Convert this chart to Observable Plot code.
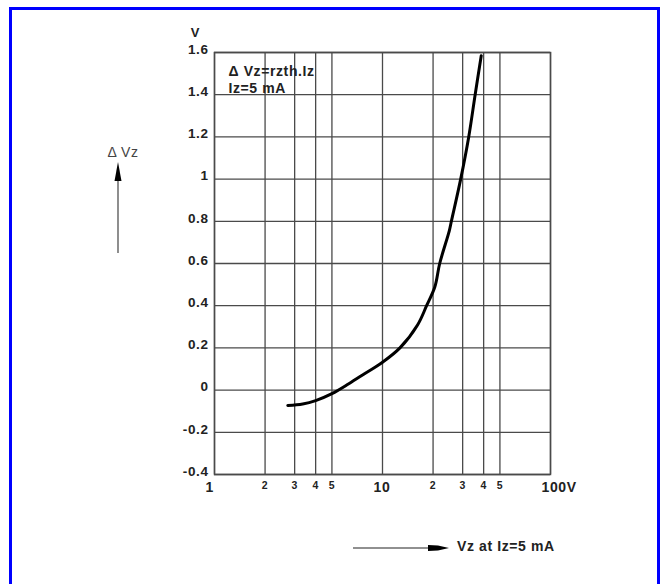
<!DOCTYPE html>
<html>
<head>
<meta charset="utf-8">
<script src="https://cdn.jsdelivr.net/npm/d3@7"></script>
<script src="https://cdn.jsdelivr.net/npm/@observablehq/plot@0.6"></script>
<style>
  html, body { margin: 0; padding: 0; background: #fff; width: 665px; height: 584px; overflow: hidden; }
  #border { position: absolute; left: 9px; top: 7px; width: 645px; height: 620px; border: 3px solid #0000ff; }
  #chart { position: absolute; left: 0; top: 0; }
  #chart svg text { letter-spacing: 0.6px; }
</style>
</head>
<body>
<div id="border"></div>
<div id="chart"></div>
<script>
// ---- data ----
const vz  = [2.73, 3.35, 4.0, 5.0, 6.3, 7.9, 10.0, 12.7, 16.2, 18.3, 20.5, 21.9, 25.0, 25.7, 29.2, 32.6, 35.6, 38.7];
const dvz = [-0.073, -0.066, -0.05, -0.017, 0.03, 0.08, 0.132, 0.2, 0.31, 0.4, 0.49, 0.6, 0.756, 0.8, 1.0, 1.2, 1.4, 1.585];

const xGrid = [1, 2, 3, 4, 5, 10, 20, 30, 40, 50, 100];
const xMajor = [1, 10, 100];
const xMajorLabels = ["1", "10", "100V"];
const xMinor = [2, 3, 4, 5, 20, 30, 40, 50];
const xMinorLabels = ["2", "3", "4", "5", "2", "3", "4", "5"];
const yTicks = [-0.4, -0.2, 0, 0.2, 0.4, 0.6, 0.8, 1, 1.2, 1.4, 1.6];
const yLabels = ["-0.4", "-0.2", "0", "0.2", "0.4", "0.6", "0.8", "1", "1.2", "1.4", "1.6"];

const yUnit = "V";
const note1 = "\u0394 Vz=rzth.Iz";
const note2 = "Iz=5 mA";
const yTitle = "\u0394 Vz";
const xTitle = "Vz at Iz=5 mA";

const curve = vz.map((v, i) => ({x: v, y: dvz[i]}));
const majorRows = xMajor.map((v, i) => ({x: v, label: xMajorLabels[i]}));
const minorRows = xMinor.map((v, i) => ({x: v, label: xMinorLabels[i]}));
const gridColor = "#4a4a4a";

const plot = Plot.plot({
  width: 665,
  height: 584,
  marginLeft: 214,
  marginRight: 115,
  marginTop: 52,
  marginBottom: 110,
  style: {fontFamily: "'Liberation Sans', Arial, sans-serif", fontWeight: "bold", fontSize: "14px", color: "#222", background: "transparent"},
  x: {type: "log", domain: [1, 100], axis: null},
  y: {domain: [-0.4, 1.6]},
  marks: [
    Plot.ruleX(xGrid, {stroke: gridColor, strokeWidth: 1.3}),
    Plot.ruleY(yTicks, {stroke: gridColor, strokeWidth: 1.3}),
    Plot.frame({stroke: gridColor, strokeWidth: 1.5}),
    Plot.axisY(yTicks, {
      tickSize: 0, tickPadding: 6, dy: -3, fontSize: 13.5,
      tickFormat: d => yLabels[yTicks.indexOf(d)], label: null
    }),
    Plot.text(majorRows, {x: "x", text: "label", frameAnchor: "bottom", dy: 17, dx: -9, textAnchor: "start", fontSize: 14}),
    Plot.text(minorRows, {x: "x", text: "label", frameAnchor: "bottom", dy: 14, textAnchor: "middle", fontSize: 10.5}),
    Plot.line(curve, {x: "x", y: "y", stroke: "#000", strokeWidth: 3, curve: "catmull-rom"}),
    Plot.text([yUnit], {frameAnchor: "top-left", dx: -19, dy: -25, fontSize: 13, textAnchor: "middle"}),
    Plot.text([note1], {frameAnchor: "top-left", dx: 14, dy: 14, fontSize: 14, textAnchor: "start"}),
    Plot.text([note2], {frameAnchor: "top-left", dx: 14, dy: 31, fontSize: 14, textAnchor: "start"})
  ]
});

document.getElementById("chart").appendChild(plot);

// decorative annotations outside the frame
const svg = d3.select(plot);
const g = svg.append("g").attr("fill", "#222").style("font-weight", "bold").style("font-size", "14px");
// vertical arrow with title
g.append("text").attr("x", 123).attr("y", 152).attr("dy", "0.35em").attr("text-anchor", "middle").attr("fill", "#444").style("font-weight", "normal").text(yTitle);
g.append("line").attr("x1", 118).attr("x2", 118).attr("y1", 253).attr("y2", 176).attr("stroke", "#444").attr("stroke-width", 1.2);
g.append("path").attr("d", "M118,162 L121.5,181 L114.5,181 Z").attr("fill", "#000");
// horizontal arrow with title
g.append("line").attr("x1", 353).attr("x2", 432).attr("y1", 548).attr("y2", 548).attr("stroke", "#222").attr("stroke-width", 1.2);
g.append("path").attr("d", "M428,545 L438,545.5 L449,548 L438,550.5 L428,551 Z").attr("fill", "#000");
g.append("text").attr("x", 457).attr("y", 546).attr("dy", "0.35em").attr("text-anchor", "start").text(xTitle);
</script>
</body>
</html>
